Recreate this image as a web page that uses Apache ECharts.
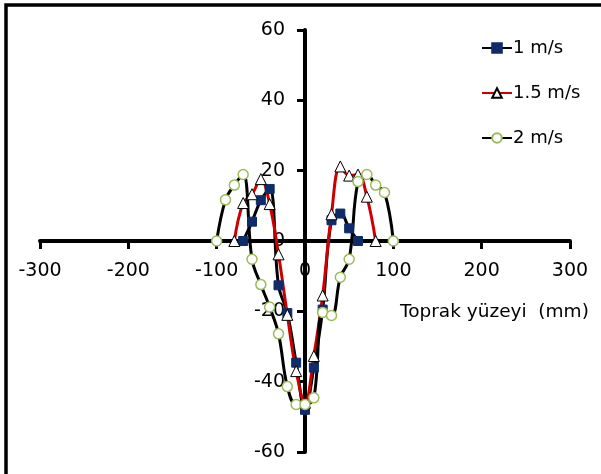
<!DOCTYPE html>
<html>
<head>
<meta charset="utf-8">
<script src="https://cdn.jsdelivr.net/npm/echarts@6/dist/echarts.min.js"></script>
<style>html,body{margin:0;padding:0;background:#fff}#c{width:601px;height:474px}</style>
</head>
<body>
<div id="c"></div>
<script>
// Data (x in mm, y values)
const x1 = [-70,-60,-50,-40,-30,-20,-10,0,10,20,30,40,50,60];
const y1 = [0,5.5,11.6,14.8,-12.6,-20.5,-34.6,-48,-36,-19.5,5.9,7.8,3.6,0];
const x2 = [-80,-70,-60,-50,-40,-30,-20,-10,0,10,20,30,40,50,60,70,80];
const y2 = [0,10.8,13.3,17.6,10.5,-3.8,-21,-37,-46,-32.7,-15.5,7.6,21.2,18.6,18.9,12.6,0];
const x3 = [-100,-90,-80,-70,-60,-50,-40,-30,-20,-10,0,10,20,30,40,50,60,70,80,90,100];
const y3 = [0,11.7,15.9,18.9,-5.2,-12.4,-18.8,-26.4,-41.4,-46.5,-46.5,-44.6,-20.3,-21.2,-10.3,-5.2,16.9,18.9,15.9,13.8,0];
const seriesNames = ['1 m/s','1.5 m/s','2 m/s'];
const xTicks = {min:-300, max:300, interval:100};
const yTicks = {min:-60, max:60, interval:20};
const axisTitle = 'Toprak yüzeyi  (mm)';

const zip = (xs, ys) => xs.map((v,i)=>[v, ys[i]]);
const font = 'DejaVu Sans';
const W = 601, H = 474;
const grid = {left:40, right:31, top:30, bottom:22};
const gw = W - grid.left - grid.right, gh = H - grid.top - grid.bottom;
// place axes at the zero of the other axis
const xOff = -gh * (0 - yTicks.min) / (yTicks.max - yTicks.min);
const yOff = -gw * (0 - xTicks.min) / (xTicks.max - xTicks.min);

const chart = echarts.init(document.getElementById('c'), null, {renderer:'canvas'});
chart.setOption({
  animation:false,
  backgroundColor:'#fff',
  textStyle:{fontFamily:font},
  grid:Object.assign({containLabel:false, outerBoundsMode:'none'}, grid),
  xAxis:{
    type:'value', min:xTicks.min, max:xTicks.max, interval:xTicks.interval,
    offset:xOff,
    splitLine:{show:false},
    axisLine:{onZero:false, lineStyle:{color:'#000', width:4}},
    axisTick:{show:true, length:8, lineStyle:{color:'#000', width:3}},
    axisLabel:{color:'#000', fontSize:19, fontFamily:font, margin:21}
  },
  yAxis:{
    type:'value', min:yTicks.min, max:yTicks.max, interval:yTicks.interval,
    offset:yOff,
    splitLine:{show:false},
    axisLine:{onZero:false, lineStyle:{color:'#000', width:4}},
    axisTick:{show:true, length:8, lineStyle:{color:'#000', width:3}},
    axisLabel:{color:'#000', fontSize:19, fontFamily:font, margin:20}
  },
  legend:{
    orient:'vertical', left:476, top:34, itemWidth:30, itemHeight:12, itemGap:27,
    selectedMode:false,
    textStyle:{color:'#000', fontSize:18, fontFamily:font, padding:[0,0,0,-4]},
    data:seriesNames
  },
  graphic:[
    {type:'rect', shape:{x:6, y:5, width:700, height:600}, style:{fill:'none', stroke:'#000', lineWidth:3.5}, silent:true, z:100},
    {type:'text', left:400, top:303, style:{text:axisTitle, font:'18.5px "DejaVu Sans"', fill:'#000'}}
  ],
  series:[
    {name:seriesNames[0], type:'line', data:zip(x1,y1), smooth:0.4,
     symbol:'rect', symbolSize:9,
     lineStyle:{color:'#000', width:3},
     itemStyle:{color:'#0E2C6A', borderColor:'#0E2C6A', borderWidth:1}},
    {name:seriesNames[1], type:'line', data:zip(x2,y2), smooth:0.4,
     symbol:'triangle', symbolSize:11,
     lineStyle:{color:'#CC0000', width:3},
     itemStyle:{color:'#fff', borderColor:'#000', borderWidth:1}},
    {name:seriesNames[2], type:'line', data:zip(x3,y3), smooth:0.4,
     symbol:'circle', symbolSize:10,
     lineStyle:{color:'#000', width:3},
     itemStyle:{color:'#fff', borderColor:'#9BBB59', borderWidth:1.5}}
  ]
});
</script>
</body>
</html>
